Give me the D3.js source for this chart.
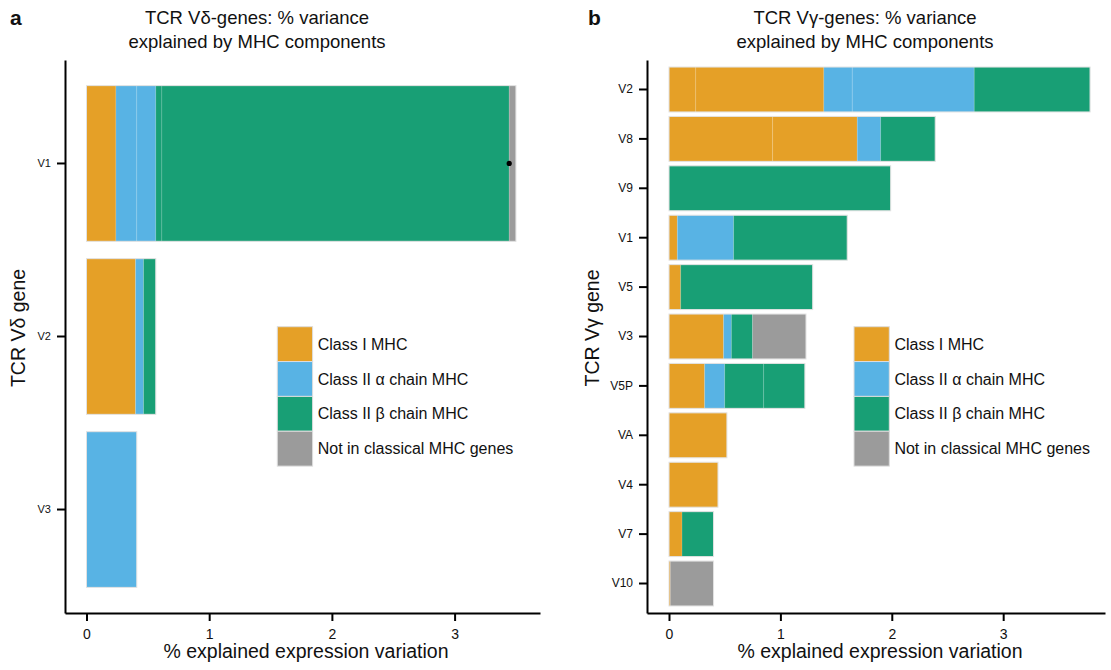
<!DOCTYPE html>
<html><head><meta charset="utf-8">
<script src="https://cdn.jsdelivr.net/npm/d3@7"></script>
<style>
body{margin:0;background:#fff}
text{font-family:"Liberation Sans",Arial,Helvetica,sans-serif;fill:#111}
</style>
</head><body>
<svg id="c" width="1111" height="670"></svg>
<script>
// ---- data ----
const classes = ["Class I MHC", "Class II \u03b1 chain MHC", "Class II \u03b2 chain MHC", "Not in classical MHC genes"];
const classColors = ["#E5A027", "#58B3E4", "#189F75", "#9B9B9B"];
const xTicks = [0, 1, 2, 3];

const deltaGenes = ["V1", "V2", "V3"];
const deltaClassI   = [[0.24], [0.40], []];
const deltaClassIIa = [[0.17, 0.155], [0.065], [0.41]];
const deltaClassIIb = [[0.049, 2.831], [0.10], []];
const deltaOther    = [[0.055], [], []];
const deltaDots     = [3.445, null, null];

const gammaGenes = ["V2", "V8", "V9", "V1", "V5", "V3", "V5P", "VA", "V4", "V7", "V10"];
const gammaClassI   = [[0.24, 1.15], [0.93, 0.76], [], [0.075], [0.105], [0.49], [0.32], [0.52], [0.44], [0.117], [0.012]];
const gammaClassIIa = [[0.255, 1.095], [0.21], [], [0.505], [], [0.07], [0.18], [], [], [], []];
const gammaClassIIb = [[1.04], [0.49], [1.99], [1.02], [1.185], [0.19], [0.35, 0.37], [], [], [0.283], []];
const gammaOther    = [[], [], [], [], [], [0.48], [], [], [], [], [0.388]];
const gammaDots     = gammaGenes.map(() => null);

// ---- drawing ----
const svg = d3.select("#c");

function panel(cfg) {
  const g = svg.append("g");
  const x = d3.scaleLinear().domain(cfg.xDomain).range([cfg.left, cfg.right]);
  const y = d3.scaleBand().domain(cfg.genes).range([60, 613])
    .paddingInner(cfg.padIn).paddingOuter(cfg.padOut);

  // bars
  const series = [cfg.c1, cfg.c2a, cfg.c2b, cfg.other];
  cfg.genes.forEach((gene, i) => {
    let acc = 0;
    const bg = g.append("g");
    series.forEach((arr, ci) => {
      arr[i].forEach(v => {
        bg.append("rect")
          .attr("x", x(acc)).attr("y", y(gene))
          .attr("width", x(acc + v) - x(acc)).attr("height", y.bandwidth())
          .attr("fill", classColors[ci])
          .attr("stroke", "#ffffff").attr("stroke-opacity", 0.12).attr("stroke-width", 1);
        acc += v;
      });
    });
    bg.append("rect")
      .attr("x", x(0)).attr("y", y(gene))
      .attr("width", x(acc) - x(0)).attr("height", y.bandwidth())
      .attr("fill", "none").attr("stroke", "#e2e2e2").attr("stroke-width", 1);
    if (cfg.dots[i] != null) {
      g.append("circle").attr("cx", x(cfg.dots[i])).attr("cy", y(gene) + y.bandwidth() / 2)
        .attr("r", 2.6).attr("fill", "#000");
    }
  });

  // x axis
  const xa = g.append("g").attr("transform", "translate(0,613)")
    .call(d3.axisBottom(x).tickValues(xTicks).tickFormat(d3.format("d"))
      .tickSize(8).tickSizeOuter(0).tickPadding(8));
  xa.select(".domain").attr("stroke", "#000").attr("stroke-width", 2);
  xa.selectAll(".tick line").attr("stroke", "#000").attr("stroke-width", 2);
  xa.selectAll(".tick text").attr("font-size", 14).attr("fill", "#111")
    .attr("font-family", "'Liberation Sans',Arial,sans-serif");

  // y axis
  const ya = g.append("g").attr("transform", `translate(${cfg.left},0)`)
    .call(d3.axisLeft(y).tickSize(8).tickSizeOuter(0).tickPadding(6));
  ya.select(".domain").attr("stroke", "#000").attr("stroke-width", 2);
  ya.selectAll(".tick line").attr("stroke", "#000").attr("stroke-width", 2);
  ya.selectAll(".tick text").attr("font-size", cfg.yTickSize).attr("fill", "#111")
    .attr("font-family", "'Liberation Sans',Arial,sans-serif");

  // titles
  g.append("text").attr("x", cfg.titleX).attr("y", 24).attr("text-anchor", "middle")
    .attr("font-size", 18.5).text(cfg.title1);
  g.append("text").attr("x", cfg.titleX).attr("y", 48).attr("text-anchor", "middle")
    .attr("font-size", 18.5).text("explained by MHC components");
  g.append("text").attr("x", cfg.letterX).attr("y", 25).attr("font-size", 21)
    .attr("font-weight", "bold").text(cfg.letter);
  g.append("text").attr("x", cfg.xTitleX).attr("y", 658).attr("text-anchor", "middle")
    .attr("font-size", 19.5).text("% explained expression variation");
  g.append("text").attr("transform", `translate(${cfg.yTitleX},328) rotate(-90)`)
    .attr("text-anchor", "middle").attr("font-size", 19.5).text(cfg.yTitle);

  // legend
  const lg = g.append("g").attr("transform", `translate(${cfg.legendX},326.7)`);
  classes.forEach((c, i) => {
    lg.append("rect").attr("x", 0).attr("y", i * 34.85).attr("width", 35.3).attr("height", 34.85)
      .attr("fill", classColors[i]).attr("stroke", "#dddddd").attr("stroke-width", 1);
    lg.append("text").attr("x", 40.4).attr("y", i * 34.85 + 17.4).attr("dy", "0.35em")
      .attr("font-size", 16).text(c);
  });
}

panel({
  genes: deltaGenes, c1: deltaClassI, c2a: deltaClassIIa, c2b: deltaClassIIb, other: deltaOther, dots: deltaDots,
  xDomain: [-0.175, 3.696], left: 65, right: 540, padIn: 0.1, padOut: 0.148, yTickSize: 11,
  title1: "TCR V\u03b4-genes: % variance", titleX: 257, letter: "a", letterX: 10,
  xTitleX: 306, yTitle: "TCR V\u03b4 gene", yTitleX: 25, legendX: 277.3
});

panel({
  genes: gammaGenes, c1: gammaClassI, c2a: gammaClassIIa, c2b: gammaClassIIb, other: gammaOther, dots: gammaDots,
  xDomain: [-0.1975, 3.914], left: 647, right: 1105, padIn: 0.09, padOut: 0.142, yTickSize: 12,
  title1: "TCR V\u03b3-genes: % variance", titleX: 865, letter: "b", letterX: 588,
  xTitleX: 880, yTitle: "TCR V\u03b3 gene", yTitleX: 599, legendX: 854
});
</script>
</body></html>
